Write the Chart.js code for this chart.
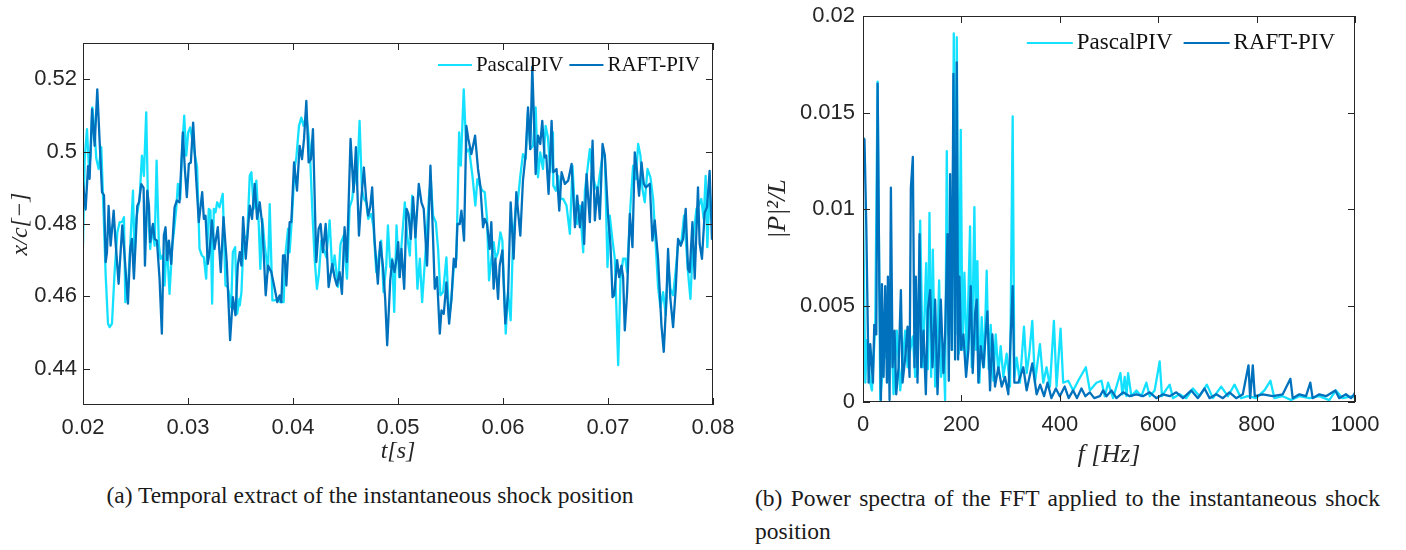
<!DOCTYPE html>
<html>
<head>
<meta charset="utf-8">
<script src="https://cdn.jsdelivr.net/npm/chart.js@4.4.1/dist/chart.umd.min.js"></script>
<style>
  html, body { margin: 0; padding: 0; background: #fff; }
  body { width: 1406px; height: 550px; position: relative; overflow: hidden; }
  canvas { position: absolute; top: 0; }
  #left { left: 0; }
  #right { left: 740px; }
  .cap { position: absolute; font-family: 'Liberation Serif', serif; font-size: 23.5px; line-height: 33px; color: #1a1a1a; }
  #capA { left: 0; width: 740px; top: 479px; text-align: center; }
  #capB { left: 755px; width: 625px; top: 482px; text-align: justify; text-align-last: left; }
</style>
</head>
<body>
<canvas id="left" width="740" height="470"></canvas>
<canvas id="right" width="666" height="470"></canvas>
<div class="cap" id="capA">(a) Temporal extract of the instantaneous shock position</div>
<div class="cap" id="capB">(b) Power spectra of the FFT applied to the instantaneous shock position</div>
<script>
const seriesNames = ['PascalPIV', 'RAFT-PIV']
const pascalColor = '#14e1ff'
const raftColor = '#0072bd'
const axisColor = '#262626'

// (a) shock position x/c against time t [s]
const pascalTime = [
  0.02000, 0.02016, 0.02038, 0.02057, 0.02073, 0.02089, 0.02111, 0.02127, 0.02149, 0.02174,
  0.02197, 0.02216, 0.02238, 0.02254, 0.02276, 0.02301, 0.02327, 0.02349, 0.02371, 0.02390,
  0.02403, 0.02428, 0.02453, 0.02476, 0.02491, 0.02507, 0.02539, 0.02561, 0.02580, 0.02602,
  0.02621, 0.02640, 0.02659, 0.02682, 0.02701, 0.02723, 0.02739, 0.02761, 0.02777, 0.02799,
  0.02824, 0.02850, 0.02865, 0.02888, 0.02904, 0.02926, 0.02945, 0.02964, 0.02983, 0.03002,
  0.03021, 0.03040, 0.03062, 0.03087, 0.03110, 0.03132, 0.03151, 0.03173, 0.03198, 0.03214,
  0.03230, 0.03246, 0.03262, 0.03278, 0.03300, 0.03331, 0.03357, 0.03379, 0.03411, 0.03427,
  0.03449, 0.03468, 0.03490,
  0.03493, 0.03509, 0.03531, 0.03563, 0.03588, 0.03604, 0.03626, 0.03651, 0.03674, 0.03689,
  0.03708, 0.03731, 0.03762, 0.03778, 0.03804, 0.03826, 0.03857, 0.03880, 0.03911, 0.03927,
  0.03953, 0.03968, 0.03991, 0.04016, 0.04032, 0.04057, 0.04079, 0.04101, 0.04127, 0.04159,
  0.04184, 0.04206, 0.04228, 0.04247, 0.04270, 0.04292, 0.04317, 0.04349, 0.04374, 0.04396,
  0.04428, 0.04453, 0.04482, 0.04514, 0.04539, 0.04564, 0.04587, 0.04609, 0.04634, 0.04656,
  0.04675, 0.04697, 0.04716, 0.04745, 0.04767, 0.04793, 0.04818, 0.04840, 0.04862, 0.04888,
  0.04904, 0.04926, 0.04945, 0.04964,
  0.04986, 0.05011, 0.05033, 0.05065, 0.05087, 0.05113, 0.05135, 0.05160, 0.05185, 0.05208,
  0.05230, 0.05249, 0.05271, 0.05293, 0.05312, 0.05334, 0.05360, 0.05382, 0.05404, 0.05430,
  0.05461, 0.05487, 0.05509, 0.05531, 0.05556, 0.05582, 0.05598, 0.05626, 0.05651, 0.05677,
  0.05709, 0.05737, 0.05756, 0.05778, 0.05804, 0.05826, 0.05848, 0.05867, 0.05889, 0.05911,
  0.05930, 0.05953, 0.05975, 0.05994, 0.06026, 0.06048, 0.06073, 0.06095, 0.06121, 0.06143,
  0.06165, 0.06190, 0.06216, 0.06238, 0.06260, 0.06285, 0.06311, 0.06333, 0.06355, 0.06381,
  0.06406, 0.06428, 0.06450, 0.06476,
  0.06479, 0.06504, 0.06526, 0.06548, 0.06574, 0.06605, 0.06637, 0.06662, 0.06685, 0.06707,
  0.06732, 0.06764, 0.06780, 0.06805, 0.06827, 0.06853, 0.06875, 0.06900, 0.06922, 0.06948,
  0.06970, 0.06995, 0.07017, 0.07043, 0.07065, 0.07097, 0.07119, 0.07144, 0.07166, 0.07182,
  0.07214, 0.07239, 0.07265, 0.07287, 0.07309, 0.07328, 0.07350, 0.07376, 0.07404, 0.07430,
  0.07452, 0.07477, 0.07499, 0.07525, 0.07550, 0.07572, 0.07594, 0.07620, 0.07645, 0.07670,
  0.07699, 0.07724, 0.07747, 0.07762, 0.07785, 0.07810, 0.07842, 0.07864, 0.07889, 0.07911,
  0.07930, 0.07946, 0.07968, 0.07994, 0.08000
]
const pascalPos = [
  0.474, 0.498, 0.5062, 0.4952, 0.4989, 0.5122, 0.5053, 0.498, 0.4952, 0.5012,
  0.4823, 0.4658, 0.4525, 0.4515, 0.4525, 0.4667, 0.4777, 0.4805, 0.4805, 0.4819,
  0.4584, 0.4621, 0.4759, 0.4892, 0.4704, 0.4814, 0.4869, 0.4989, 0.4933, 0.5108,
  0.4832, 0.4731, 0.4791, 0.474, 0.4975, 0.474, 0.4704, 0.4713, 0.463, 0.475,
  0.4607, 0.474, 0.4777, 0.4842, 0.4911, 0.4869, 0.5012, 0.5099, 0.4989, 0.5053,
  0.5067, 0.5035, 0.4998, 0.4956, 0.4731, 0.4713, 0.4708, 0.4649, 0.4842, 0.4837,
  0.458, 0.4842, 0.4832, 0.486, 0.4846, 0.4883, 0.463, 0.4626, 0.457, 0.4722,
  0.4736, 0.4552, 0.4593,
  0.4575, 0.4612, 0.4768, 0.4759, 0.4933, 0.4943, 0.4842, 0.492, 0.4796, 0.4676,
  0.4814, 0.474, 0.4667, 0.4855, 0.4589, 0.4589, 0.4593, 0.4584, 0.4584, 0.4713,
  0.4787, 0.4722, 0.4823, 0.4956, 0.4984, 0.5071, 0.5094, 0.5071, 0.5103, 0.5016,
  0.4837, 0.4704, 0.4621, 0.4662, 0.4754, 0.4731, 0.4708, 0.481, 0.4667, 0.4713,
  0.4626, 0.4745, 0.4768, 0.4649, 0.4846, 0.4869, 0.4943, 0.4906, 0.5085, 0.4897,
  0.4869, 0.486, 0.4814, 0.4828, 0.4791, 0.4667, 0.4713, 0.4754, 0.4612, 0.4685,
  0.4796, 0.4681, 0.4704, 0.4557,
  0.4796, 0.4653, 0.474, 0.486, 0.4768, 0.4713, 0.4878, 0.4814, 0.4621, 0.4704,
  0.4584, 0.4667, 0.4759, 0.4869, 0.4924, 0.4823, 0.4805, 0.4731, 0.4603, 0.4612,
  0.4708, 0.4538, 0.4593, 0.4681, 0.4704, 0.5053, 0.4961, 0.5172, 0.4998, 0.5007,
  0.4933, 0.4851, 0.4924, 0.4906, 0.4892, 0.4888, 0.4814, 0.4644, 0.4704, 0.475,
  0.4704, 0.4722, 0.4777, 0.4754, 0.4497, 0.4612, 0.4534, 0.4754, 0.4842, 0.4869,
  0.4933, 0.4993, 0.498, 0.5108, 0.5007, 0.5016, 0.5122, 0.4929, 0.4998, 0.4952,
  0.5071, 0.5039, 0.4943, 0.5053,
  0.4906, 0.4892, 0.4933, 0.4869, 0.4869, 0.4851, 0.4773, 0.4961, 0.4832, 0.48,
  0.4851, 0.4722, 0.4892, 0.4952, 0.5007, 0.4933, 0.4911, 0.4888, 0.4938, 0.4989,
  0.4989, 0.4681, 0.4823, 0.4754, 0.4704, 0.441, 0.4649, 0.4704, 0.4704, 0.4667,
  0.4851, 0.4961, 0.4924, 0.5021, 0.4989, 0.4897, 0.486, 0.4952, 0.4929, 0.4869,
  0.4754, 0.4626, 0.457, 0.4612, 0.4548, 0.4695, 0.4621, 0.4603, 0.4672, 0.4754,
  0.475, 0.4823, 0.4731, 0.4667, 0.4593, 0.4754, 0.4842, 0.4851, 0.4869, 0.4814,
  0.4933, 0.4736, 0.4888, 0.4796, 0.476
]
const raftTime = [
  0.02000, 0.02025, 0.02048, 0.02063, 0.02086, 0.02111, 0.02136, 0.02159, 0.02181, 0.02200,
  0.02216, 0.02228, 0.02244, 0.02263, 0.02292, 0.02308, 0.02339, 0.02374, 0.02396, 0.02428,
  0.02450, 0.02466, 0.02485, 0.02517, 0.02533, 0.02555, 0.02577, 0.02590, 0.02612, 0.02628,
  0.02640, 0.02666, 0.02682, 0.02704, 0.02729, 0.02751, 0.02770, 0.02786, 0.02802, 0.02818,
  0.02840, 0.02872, 0.02894, 0.02919, 0.02951, 0.02970, 0.02989, 0.03008, 0.03027, 0.03049,
  0.03078, 0.03103, 0.03135, 0.03151, 0.03167, 0.03189, 0.03205, 0.03227, 0.03252, 0.03284,
  0.03312, 0.03338, 0.03369, 0.03401, 0.03427, 0.03452, 0.03474,
  0.03493, 0.03509, 0.03525, 0.03550, 0.03588, 0.03610, 0.03635, 0.03658, 0.03683, 0.03708,
  0.03740, 0.03762, 0.03794, 0.03826, 0.03851, 0.03873, 0.03889, 0.03905, 0.03921, 0.03937,
  0.03968, 0.03984, 0.04010, 0.04038, 0.04063, 0.04086, 0.04105, 0.04127, 0.04149, 0.04171,
  0.04190, 0.04222, 0.04244, 0.04263, 0.04285, 0.04311, 0.04339, 0.04374, 0.04396, 0.04418,
  0.04444, 0.04466, 0.04491, 0.04513, 0.04548, 0.04577, 0.04599, 0.04628, 0.04653, 0.04675,
  0.04697, 0.04716, 0.04735, 0.04754, 0.04776, 0.04808, 0.04831, 0.04856, 0.04878, 0.04897,
  0.04926, 0.04945, 0.04967,
  0.04986, 0.05002, 0.05017, 0.05033, 0.05059, 0.05081, 0.05100, 0.05122, 0.05144, 0.05166,
  0.05198, 0.05223, 0.05245, 0.05277, 0.05309, 0.05334, 0.05350, 0.05372, 0.05398, 0.05414,
  0.05436, 0.05461, 0.05487, 0.05509, 0.05531, 0.05550, 0.05566, 0.05588, 0.05604, 0.05629,
  0.05651, 0.05670, 0.05699, 0.05734, 0.05762, 0.05784, 0.05810, 0.05826, 0.05848, 0.05873,
  0.05889, 0.05911, 0.05927, 0.05953, 0.05968, 0.05994, 0.06022, 0.06048, 0.06073, 0.06101,
  0.06127, 0.06165, 0.06190, 0.06216, 0.06238, 0.06260, 0.06279, 0.06311, 0.06333, 0.06355,
  0.06374, 0.06396, 0.06412, 0.06434, 0.06463,
  0.06479, 0.06510, 0.06536, 0.06558, 0.06589, 0.06621, 0.06653, 0.06685, 0.06707, 0.06732,
  0.06757, 0.06773, 0.06796, 0.06827, 0.06853, 0.06875, 0.06900, 0.06922, 0.06948, 0.06970,
  0.07001, 0.07024, 0.07043, 0.07059, 0.07087, 0.07106, 0.07128, 0.07144, 0.07160, 0.07182,
  0.07208, 0.07233, 0.07255, 0.07277, 0.07296, 0.07319, 0.07341, 0.07360, 0.07398, 0.07423,
  0.07445, 0.07477, 0.07509, 0.07531, 0.07556, 0.07572, 0.07594, 0.07620, 0.07645, 0.07667,
  0.07693, 0.07715, 0.07740, 0.07762, 0.07778, 0.07804, 0.07826, 0.07857, 0.07873, 0.07895,
  0.07921, 0.07943, 0.07968, 0.07990, 0.08000
]
const raftPos = [
  0.4915, 0.484, 0.496, 0.4925, 0.5117, 0.5016, 0.5172, 0.5025, 0.4888, 0.488,
  0.4695, 0.472, 0.485, 0.474, 0.4837, 0.4759, 0.4635, 0.4796, 0.4713, 0.458,
  0.4731, 0.4759, 0.4649, 0.485, 0.486, 0.491, 0.490, 0.4685, 0.4892, 0.485,
  0.475, 0.480, 0.4759, 0.4754, 0.4649, 0.4497, 0.4768, 0.4791, 0.470, 0.4754,
  0.469, 0.4846, 0.4865, 0.486, 0.5053, 0.4952, 0.4874, 0.4966, 0.497, 0.508,
  0.4924, 0.4805, 0.4888, 0.4814, 0.4823, 0.469, 0.4722, 0.481, 0.4731, 0.4791,
  0.4667, 0.4819, 0.4695, 0.4479, 0.4598, 0.4548, 0.4685,
  0.4722, 0.4685, 0.4819, 0.4704, 0.4851, 0.4814, 0.4911, 0.4814, 0.486, 0.4796,
  0.4603, 0.4685, 0.4667, 0.4621, 0.4584, 0.4603, 0.4584, 0.4713, 0.4713, 0.463,
  0.4805, 0.4805, 0.497, 0.4892, 0.5016, 0.4979, 0.5035, 0.514, 0.497, 0.4979,
  0.5062, 0.4695, 0.4787, 0.48, 0.4722, 0.48, 0.4626, 0.469, 0.4653, 0.463,
  0.4667, 0.4607, 0.4791, 0.4695, 0.5035, 0.4888, 0.5012, 0.4768, 0.4878, 0.4956,
  0.4869, 0.4823, 0.4846, 0.4901, 0.4759, 0.4635, 0.475, 0.4685, 0.4593, 0.4465,
  0.4644, 0.47, 0.4667,
  0.4704, 0.475, 0.4653, 0.4731, 0.4621, 0.4842, 0.4828, 0.4759, 0.4874, 0.4763,
  0.4911, 0.486, 0.4842, 0.4685, 0.4961, 0.4759, 0.4621, 0.4653, 0.4497, 0.4561,
  0.4552, 0.4639, 0.4525, 0.4593, 0.4704, 0.4681, 0.48, 0.48, 0.4837, 0.4754,
  0.5071, 0.5035, 0.4993, 0.5044, 0.4952, 0.4906, 0.4791, 0.4814, 0.48, 0.4731,
  0.4805, 0.4621, 0.4704, 0.4593, 0.4685, 0.4727, 0.4525, 0.4607, 0.486, 0.4704,
  0.4888, 0.4768, 0.492, 0.4993, 0.5122, 0.5007, 0.5235, 0.4938, 0.5044, 0.5021,
  0.5085, 0.4984, 0.4989, 0.4883, 0.5085,
  0.4943, 0.4952, 0.4837, 0.4943, 0.4911, 0.492, 0.4966, 0.4791, 0.4878, 0.4791,
  0.486, 0.4745, 0.4938, 0.4805, 0.503, 0.481, 0.4901, 0.4814, 0.5021, 0.4989,
  0.4823, 0.474, 0.4598, 0.4603, 0.47, 0.4653, 0.4685, 0.4653, 0.4506, 0.4612,
  0.4828, 0.4736, 0.4998, 0.4943, 0.4878, 0.497, 0.4911, 0.4901, 0.4911, 0.4754,
  0.481, 0.4704, 0.452, 0.4447, 0.4593, 0.4731, 0.4593, 0.4515, 0.4621, 0.4759,
  0.474, 0.4759, 0.4842, 0.4676, 0.4667, 0.4805, 0.4649, 0.4901, 0.4745, 0.4704,
  0.4832, 0.4846, 0.4947, 0.4759, 0.477
]
const timeTicks = [0.02, 0.03, 0.04, 0.05, 0.06, 0.07, 0.08]
const timeLabels = ['0.02', '0.03', '0.04', '0.05', '0.06', '0.07', '0.08']
const posTicks = [0.44, 0.46, 0.48, 0.50, 0.52]
const posLabels = ['0.44', '0.46', '0.48', '0.5', '0.52']

// (b) power spectrum |P|^2/L against frequency f [Hz]
const pascalFreq = [
  0, 1.3, 4.7, 8.0, 14.8, 18.2, 24.9, 29.7, 35.1, 41.8,
  48.6, 55.4, 62.1, 68.9, 75.7, 81.1, 85.8, 90.5, 95.9, 101.3,
  106.1, 110.8, 116.2, 121.6, 128.4, 131.8, 135.1, 138.5, 141.9, 146.6,
  151.4, 154.7, 158.8, 163.5, 166.9, 170.3, 173.7, 177.1, 181.1, 184.5,
  187.9, 190.6, 194.6, 198.7, 202.1, 206.1, 210.9, 217.6, 221.0, 226.4,
  229.8, 232.5, 236.6, 241.3, 246.0, 251.4, 255.5, 259.5, 264.9, 269.7,
  275.1, 279.8, 285.2, 292.0, 298.8, 304.2, 307.6, 312.3, 319.0, 327.2,
  332.6, 338.0, 344.1, 349.5, 359.6, 366.4, 373.1, 379.9, 388.0, 393.4,
  401.5, 406.9, 417.1, 427.2, 437.4, 452.9, 461.0, 474.5,
  484.7, 491.4, 498.2, 508.3, 523.2, 527.3, 532.0, 535.4, 538.8, 545.5,
  555.7, 565.8, 576.0, 582.7, 592.8, 603.0, 607.7, 615.1, 623.3, 630.0,
  643.5, 657.1, 670.6, 684.1, 699.0, 711.1, 728.0, 741.6, 755.1, 768.6,
  782.1, 799.0, 815.9, 828.1, 836.2, 853.1, 870.0, 886.9, 907.2, 927.5,
  947.7, 961.3, 974.8, 995.0, 1000
]
const pascalPower = [
  0.0104, 0.0104, 0.0010, 0.0032, 0.0010, 0.0006, 0.0040, 0.0166, 0.0001, 0.0022,
  0.0025, 0.0053, 0.0004, 0.0037, 0.0006, 0.0022, 0.0037, 0.0018, 0.0027, 0.0034,
  0.0013, 0.0015, 0.0094, 0.0018, 0.0072, 0.0017, 0.0098, 0.0013, 0.0079, 0.0008,
  0.0029, 0.0063, 0.0013, 0.0027, 0.0001, 0.0130, 0.0035, 0.0070, 0.0027, 0.0191,
  0.0035, 0.0189, 0.0025, 0.0141, 0.0027, 0.0067, 0.0020, 0.0091, 0.0018, 0.0101,
  0.0027, 0.0073, 0.0010, 0.0044, 0.0018, 0.0068, 0.0017, 0.0040, 0.0011, 0.0035,
  0.0015, 0.0029, 0.0013, 0.0025, 0.0008, 0.0148, 0.0013, 0.0023, 0.0010, 0.0039,
  0.0015, 0.0025, 0.0042, 0.0010, 0.0030, 0.0010, 0.0018, 0.0008, 0.0042, 0.0008,
  0.0038, 0.0010, 0.0011, 0.0006, 0.0011, 0.0018, 0.0006, 0.0010,
  0.0011, 0.0003, 0.0010, 0.0002, 0.0015, 0.0004, 0.0013, 0.0003, 0.0015, 0.0003,
  0.0006, 0.0003, 0.0010, 0.0003, 0.0006, 0.0021, 0.0003, 0.0006, 0.0009, 0.0002,
  0.0004, 0.0002, 0.0007, 0.0003, 0.0009, 0.0002, 0.0008, 0.0003, 0.0009, 0.0002,
  0.0003, 0.0002, 0.0006, 0.0011, 0.0002, 0.0003, 0.0001, 0.0003, 0.0002, 0.0003,
  0.0001, 0.0006, 0.0002, 0.0003, 0.0002
]
const raftFreq = [
  0, 3.0, 6.7, 11.4, 14.8, 20.2, 22.9, 27.0, 29.7, 33.1,
  36.4, 38.5, 41.8, 45.2, 48.6, 50.6, 54.0, 56.7, 60.1, 64.2,
  67.5, 72.3, 77.0, 80.4, 85.8, 90.5, 94.6, 97.3, 101.3, 104.7,
  107.4, 110.8, 114.9, 118.3, 123.0, 127.7, 131.8, 136.5, 141.2, 146.6,
  151.4, 158.1, 163.5, 166.9, 171.7, 174.4, 177.1, 180.4, 183.8, 187.2,
  190.6, 193.3, 196.0, 199.4, 204.1, 209.5, 214.2, 219.0, 223.0, 227.8,
  231.2, 234.5, 239.3, 244.7, 252.8, 258.2, 262.9, 268.3, 275.1, 281.9,
  288.6, 295.4, 304.2, 307.6, 315.7, 325.8, 332.6, 344.1, 352.9, 360,
  368, 375, 383, 392, 400, 410, 418, 427, 435, 444,
  452, 461, 470,
  481.3, 488.1, 494.8, 505.0, 515.1, 528.6, 542.1,
  555.7, 569.2, 582.7, 596.2, 609.7, 623.3, 636.8, 650.3, 667.2, 680.7,
  694.2, 704.4, 717.9, 731.4, 744.9, 758.5, 772.0, 783.5, 786.9, 792.3,
  796.3, 812.5, 832.8, 853.1, 868.7, 873.4, 886.9, 900.4, 909.2, 913.9,
  927.5, 941.0, 959.9, 968.0, 981.5, 991.7, 998.4, 1000
]
const raftPower = [
  0.0137, 0.0136, 0.0091, 0.0010, 0.0030, 0.0010, 0.0040, 0.0035, 0.0165, 0.0063,
  0.0001, 0.0061, 0.0013, 0.0060, 0.0010, 0.0065, 0.0001, 0.0111, 0.0018, 0.0037,
  0.0004, 0.0018, 0.0058, 0.0010, 0.0023, 0.0039, 0.0013, 0.0111, 0.0127, 0.0018,
  0.0065, 0.0010, 0.0087, 0.0018, 0.0037, 0.0004, 0.0048, 0.0058, 0.0018, 0.0053,
  0.0004, 0.0053, 0.0015, 0.0035, 0.0087, 0.0011, 0.0118, 0.0027, 0.0170, 0.0022,
  0.0176, 0.0022, 0.0065, 0.0027, 0.0035, 0.0013, 0.0027, 0.0060, 0.0015, 0.0046,
  0.0053, 0.0010, 0.0029, 0.0018, 0.0047, 0.0006, 0.0035, 0.0008, 0.0018, 0.0008,
  0.0013, 0.0004, 0.0060, 0.0010, 0.0010, 0.0018, 0.0006, 0.0020, 0.0004, 0.0009,
  0.0003, 0.0010, 0.0002, 0.0007, 0.0003, 0.0008, 0.0002, 0.0006, 0.0002, 0.0007,
  0.0003, 0.0005, 0.0002,
  0.0003, 0.0006, 0.0003, 0.0006, 0.0002, 0.0005, 0.0003,
  0.0004, 0.0003, 0.0005, 0.0002, 0.0004, 0.0003, 0.0005, 0.0002, 0.0006, 0.0002,
  0.0007, 0.0002, 0.0004, 0.0002, 0.0005, 0.0002, 0.0004, 0.0019, 0.0002, 0.0019,
  0.0003, 0.0004, 0.0003, 0.0004, 0.0012, 0.0002, 0.0004, 0.0003, 0.0010, 0.0002,
  0.0004, 0.0003, 0.0006, 0.0002, 0.0004, 0.0002, 0.0004, 0.0005
]
const freqTicks = [0, 200, 400, 600, 800, 1000]
const freqLabels = ['0', '200', '400', '600', '800', '1000']
const powerTicks = [0, 0.005, 0.01, 0.015, 0.02]
const powerLabels = ['0', '0.005', '0.01', '0.015', '0.02']

const tickFont = { family: 'Liberation Sans', size: 22 }

function pairs(xs, ys) {
  return xs.map((x, i) => ({ x: x, y: ys[i] }))
}

// box round the plot with inward ticks on all four sides, like matlab
const matlabBox = {
  id: 'matlabBox',
  afterDatasetsDraw(chart) {
    const { ctx, chartArea: a, scales } = chart
    const L = 7
    ctx.save()
    ctx.strokeStyle = axisColor
    ctx.lineWidth = 1
    ctx.beginPath()
    scales.x.ticks.forEach(t => {
      const px = Math.round(scales.x.getPixelForValue(t.value)) + 0.5
      ctx.moveTo(px, a.bottom); ctx.lineTo(px, a.bottom - L)
      ctx.moveTo(px, a.top); ctx.lineTo(px, a.top + L)
    })
    scales.y.ticks.forEach(t => {
      const py = Math.round(scales.y.getPixelForValue(t.value)) + 0.5
      ctx.moveTo(a.left, py); ctx.lineTo(a.left + L, py)
      ctx.moveTo(a.right, py); ctx.lineTo(a.right - L, py)
    })
    ctx.stroke()
    ctx.strokeRect(a.left + 0.5, a.top + 0.5, a.width - 1, a.height - 1)
    ctx.restore()
  }
}

// legend drawn inside the axes, top right
const inLegend = {
  id: 'inLegend',
  afterDraw(chart, args, o) {
    const { ctx, chartArea: a } = chart
    const sets = chart.data.datasets
    ctx.save()
    ctx.font = o.size + 'px "Liberation Serif"'
    ctx.textBaseline = 'middle'
    let w = 0
    sets.forEach((d, i) => { w += o.sample + o.gap + ctx.measureText(d.label).width + (i ? o.itemGap : 0) })
    let x = a.right - o.right - w
    const y = a.top + o.top
    sets.forEach((d, i) => {
      if (i) x += o.itemGap
      ctx.strokeStyle = d.borderColor
      ctx.lineWidth = 2
      ctx.beginPath(); ctx.moveTo(x, y); ctx.lineTo(x + o.sample, y); ctx.stroke()
      x += o.sample + o.gap
      ctx.fillStyle = '#111'
      ctx.fillText(d.label, x, y)
      x += ctx.measureText(d.label).width
    })
    ctx.restore()
  }
}

function axis(o) {
  return {
    type: 'linear',
    min: o.min,
    max: o.max,
    grid: { display: false, drawTicks: false },
    border: { display: false },
    afterBuildTicks: s => { s.ticks = o.ticks.map(v => ({ value: v })) },
    afterFit: s => {
      s[o.dim] = o.size
      s.paddingLeft = s.paddingRight = s.paddingTop = s.paddingBottom = 0
    },
    ticks: {
      font: tickFont, color: axisColor, padding: o.tickPad,
      maxRotation: 0, autoSkip: false,
      callback: (v, i) => o.labels[i]
    },
    title: {
      display: true, text: o.title, color: axisColor, padding: o.titlePad,
      font: { family: 'Liberation Serif', size: o.titleSize, style: 'italic', lineHeight: 1 }
    }
  }
}

function makeChart(id, o) {
  return new Chart(document.getElementById(id), {
    type: 'line',
    data: {
      datasets: [
        { label: seriesNames[0], data: pairs(o.xs[0], o.ys[0]), borderColor: pascalColor, borderWidth: o.lw, order: 2 },
        { label: seriesNames[1], data: pairs(o.xs[1], o.ys[1]), borderColor: raftColor, borderWidth: o.lw, order: 1 }
      ]
    },
    options: {
      responsive: false,
      animation: false,
      events: [],
      layout: { padding: o.pad },
      elements: { point: { radius: 0 }, line: { tension: 0, borderJoinStyle: 'round' } },
      plugins: { legend: { display: false }, tooltip: { enabled: false }, inLegend: o.legend },
      scales: { x: o.x, y: o.y }
    },
    plugins: [matlabBox, inLegend]
  })
}

makeChart('left', {
  xs: [pascalTime, raftTime], ys: [pascalPos, raftPos], lw: 2.3,
  pad: { left: 0, top: 43, right: 27, bottom: 0 },
  legend: { size: 21, sample: 34, gap: 4, itemGap: 6, right: 13, top: 22 },
  x: axis({ min: 0.02, max: 0.08, ticks: timeTicks, labels: timeLabels, dim: 'height', size: 65,
    tickPad: 10, title: 't[s]', titleSize: 24, titlePad: { bottom: 6 } }),
  y: axis({ min: 0.43, max: 0.53, ticks: posTicks, labels: posLabels, dim: 'width', size: 83,
    tickPad: 6, title: 'x/c[−]', titleSize: 24, titlePad: { top: 9 } })
})

makeChart('right', {
  xs: [pascalFreq, raftFreq], ys: [pascalPower, raftPower], lw: 2.3,
  pad: { left: 0, top: 16, right: 51, bottom: 0 },
  legend: { size: 23, sample: 46, gap: 4, itemGap: 11, right: 20, top: 27 },
  x: axis({ min: 0, max: 1000, ticks: freqTicks, labels: freqLabels, dim: 'height', size: 68,
    tickPad: 10, title: 'f [Hz]', titleSize: 26, titlePad: { bottom: 2 } }),
  y: axis({ min: 0, max: 0.02, ticks: powerTicks, labels: powerLabels, dim: 'width', size: 123,
    tickPad: 8, title: '|P|²/L', titleSize: 26, titlePad: { top: 25 } })
})
</script>
</body>
</html>
